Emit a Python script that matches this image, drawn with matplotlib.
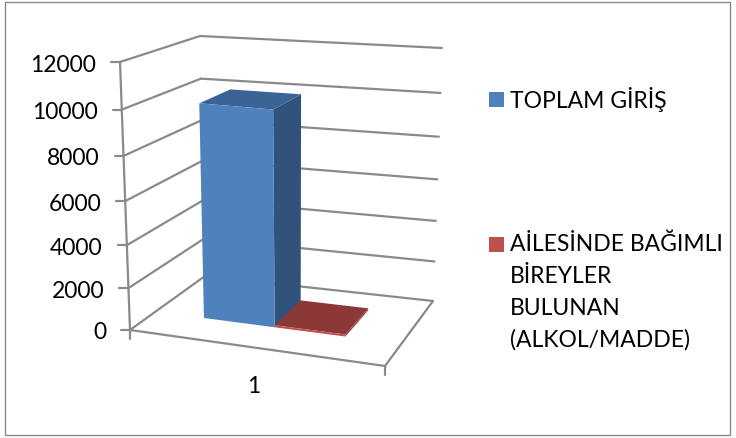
import numpy as np
import matplotlib
matplotlib.use('Agg')
import matplotlib.pyplot as plt
from matplotlib.patches import Polygon, Rectangle

# data
categories = ['1']
series_names = ['TOPLAM GİRİŞ', 'AİLESİNDE BAĞIMLI\nBİREYLER\nBULUNAN\n(ALKOL/MADDE)']
series_values = [10000, 100]
y_ticks = [0, 2000, 4000, 6000, 8000, 10000, 12000]
y_max = 12000

front_colors = ['#4F81BD', '#C0504D']
side_colors = ['#31527A', '#A03F3C']
top_colors = ['#3A6496', '#8C3836']
grid_color = '#8A8A8A'

plt.rcParams['font.family'] = ['Lato', 'DejaVu Sans']

# corners of the 3d box in pixels: (floor, top)
FL = ((130, 331), (120, 63))
FR = ((385, 367), (388, 86))
BL = ((205, 277), (200, 37))
BR = ((433, 302), (442, 49))


def project(u, v, value):
    # u along the categories, v into the depth, value up
    w = value / y_max
    w = w / (w + 1.08 * (1 - w))
    pts = []
    for c in (FL, FR, BL, BR):
        pts.append((1 - w) * np.array(c[0]) + w * np.array(c[1]))
    return (1 - u) * (1 - v) * pts[0] + u * (1 - v) * pts[1] + (1 - u) * v * pts[2] + u * v * pts[3]


fig = plt.figure(figsize=(7.36, 4.39), dpi=100)
ax = fig.add_axes([0, 0, 1, 1])
ax.set_xlim(0, 736)
ax.set_ylim(439, 0)
ax.axis('off')

# outer frame of the chart
ax.add_patch(Rectangle((5, 3), 725, 433, fill=False, edgecolor='#8A8A8A', linewidth=1))


def line(p, q, lw=1.6):
    ax.plot([p[0], q[0]], [p[1], q[1]], color=grid_color, linewidth=lw, solid_capstyle='round', zorder=1)


# walls and floor
for t in y_ticks:
    line(project(0, 0, t), project(0, 1, t))
    line(project(0, 1, t), project(1, 1, t))
    p = project(0, 0, t)
    line(p, p + np.array([-9, 0]))
    ax.text(p[0] - 24, p[1] + 2, str(t), ha='right', va='center', fontsize=16.5, color='black')
line(project(0, 0, 0), project(0, 0, y_max))
line(project(0, 0, 0), project(1, 0, 0))
line(project(1, 0, 0), project(1, 1, 0))
for u in (0, 1):
    p = project(u, 0, 0)
    line(p, p + np.array([0, 9]))

# bars
gap = 0.197
bar_width = (1 - 2 * gap) / len(series_values) * 0.95
v0, v1 = 0.34, 0.76
for i, val in enumerate(series_values):
    u0 = gap + i * bar_width
    u1 = u0 + bar_width
    back = [project(u1, v0, 0), project(u1, v1, 0), project(u1, v1, val), project(u1, v0, val)]
    top = [project(u0, v0, val), project(u1, v0, val), project(u1, v1, val), project(u0, v1, val)]
    front = [project(u0, v0, 0), project(u1, v0, 0), project(u1, v0, val), project(u0, v0, val)]
    ax.add_patch(Polygon(back, closed=True, facecolor=side_colors[i], edgecolor='none', zorder=2))
    ax.add_patch(Polygon(top, closed=True, facecolor=top_colors[i], edgecolor='none', zorder=2))
    ax.add_patch(Polygon(front, closed=True, facecolor=front_colors[i], edgecolor='none', zorder=2))

# category label
ax.text(254, 387, categories[0], ha='center', va='center', fontsize=16.5, color='black')

# legend
legend_y = [100, 245]
text_y = [87, 234]
for i, name in enumerate(series_names):
    ax.add_patch(Rectangle((489, legend_y[i] - 7), 15, 15, facecolor=front_colors[i], edgecolor='none'))
    ax.text(510, text_y[i], name, ha='left', va='top', fontsize=16.5, color='black', linespacing=1.62)

fig.savefig('out.png', dpi=100)
